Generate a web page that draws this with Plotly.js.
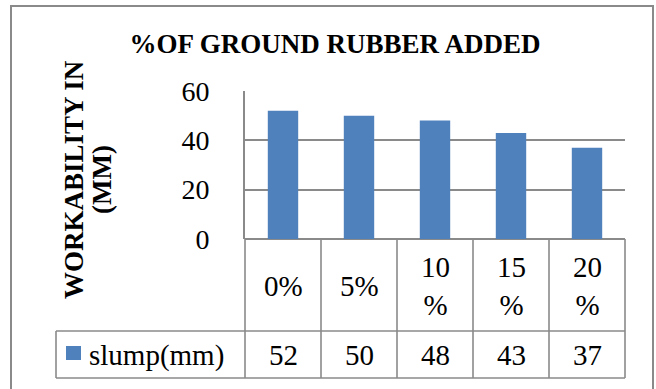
<!DOCTYPE html>
<html>
<head>
<meta charset="utf-8">
<script src="https://cdn.plot.ly/plotly-3.0.1.min.js"></script>
<style>
html, body { margin: 0; padding: 0; background: #fff; font-family: 'Liberation Serif', serif; }
</style>
</head>
<body>
<div id="chart"></div>
<script>
// Slump test results for concrete with ground rubber replacement
const categories = ['0%', '5%', '10%', '15%', '20%'];
const slump = [52, 50, 48, 43, 37];
const seriesName = 'slump(mm)';
const yTicks = [0, 20, 40, 60];

const W = 656, H = 389;
const M = {l: 245, r: 31, t: 91, b: 150};
const plotW = W - M.l - M.r, plotH = H - M.t - M.b;
// pixel -> paper helpers for the frame, data table and legend key
const px = x => (x - M.l) / plotW;
const py = y => (H - M.b - y) / plotH;

const GRID = '#8a8a8a';
const BLUE = '#4F81BD';
const SERIF = 'Liberation Serif';
const TXT = 29;

// wrap long category labels the way the narrow table cells do
const cellLabel = c => c.length > 2 ? c.slice(0, -1) + '<br>%' : c;

const shapes = [];
const addLine = (x0, y0, x1, y1, xref) => shapes.push({
  type: 'line', xref: xref || 'paper', yref: 'paper',
  x0, y0, x1, y1, line: {color: GRID, width: 1.6}
});

// outer chart frame
shapes.push({type: 'rect', xref: 'paper', yref: 'paper',
  x0: px(11), y0: py(6), x1: px(653), y1: py(395),
  line: {color: GRID, width: 2}, fillcolor: 'rgba(0,0,0,0)'});

// data table grid
const rowTop = py(331), rowBot = py(378);
addLine(px(56), rowTop, 1, rowTop);
addLine(px(56), rowBot, 1, rowBot);
addLine(px(56), rowTop, px(56), rowBot);
addLine(0, 0, 0, rowBot);
addLine(1, 0, 1, rowBot);
categories.slice(0, -1).forEach((c, i) => addLine(i + 0.5, 0, i + 0.5, rowBot, 'x'));

// legend key
shapes.push({type: 'rect', xref: 'paper', yref: 'paper',
  x0: px(66), x1: px(81), y0: py(346), y1: py(360),
  fillcolor: BLUE, line: {width: 0}});

const annotations = [];
categories.forEach((c, i) => {
  annotations.push({xref: 'x', yref: 'paper', x: c, y: py(286),
    text: cellLabel(c), showarrow: false, xanchor: 'center', yanchor: 'middle',
    font: {family: SERIF, size: TXT, color: '#000'}});
  annotations.push({xref: 'x', yref: 'paper', x: c, y: py(355),
    text: String(slump[i]), showarrow: false, xanchor: 'center', yanchor: 'middle',
    font: {family: SERIF, size: TXT, color: '#000'}});
});
annotations.push({xref: 'paper', yref: 'paper', x: px(87), y: py(355),
  text: seriesName, showarrow: false, xanchor: 'left', yanchor: 'middle',
  font: {family: SERIF, size: TXT, color: '#000'}});

// vertical axis title, two lines
['WORKABILITY IN', '(MM)'].forEach((t, k) => annotations.push({
  xref: 'paper', yref: 'paper', x: px(k === 0 ? 74 : 102), y: py(180),
  text: '<b>' + t + '</b>', textangle: -90, showarrow: false, xanchor: 'center', yanchor: 'middle',
  font: {family: SERIF, size: 27, color: '#000'}}));

const trace = {
  type: 'bar', x: categories, y: slump, name: seriesName,
  marker: {color: BLUE}, hoverinfo: 'skip'
};

const layout = {
  width: W, height: H,
  margin: M,
  font: {family: SERIF, color: '#000'},
  paper_bgcolor: '#fff', plot_bgcolor: '#fff',
  showlegend: false,
  bargap: 0.6,
  title: {
    text: '<b>%OF GROUND RUBBER ADDED</b>',
    xref: 'container', yref: 'container',
    x: 335 / W, y: 1 - 44 / H, xanchor: 'center', yanchor: 'middle',
    font: {family: SERIF, size: 27, color: '#000'}
  },
  xaxis: {
    type: 'category', range: [-0.5, categories.length - 0.5],
    showticklabels: false, showgrid: false, zeroline: false, showline: false, ticks: ''
  },
  yaxis: {
    range: [0, 60], tickvals: yTicks, ticktext: yTicks.map(String),
    showgrid: true, gridcolor: GRID, gridwidth: 1.6,
    zeroline: true, zerolinecolor: GRID, zerolinewidth: 1.6,
    showline: true, linecolor: GRID, linewidth: 1.6,
    ticks: '', ticklabelstandoff: 28,
    tickfont: {family: SERIF, size: 28, color: '#000'}
  },
  shapes, annotations
};

Plotly.newPlot('chart', [trace], layout, {displayModeBar: false});
</script>
</body>
</html>
